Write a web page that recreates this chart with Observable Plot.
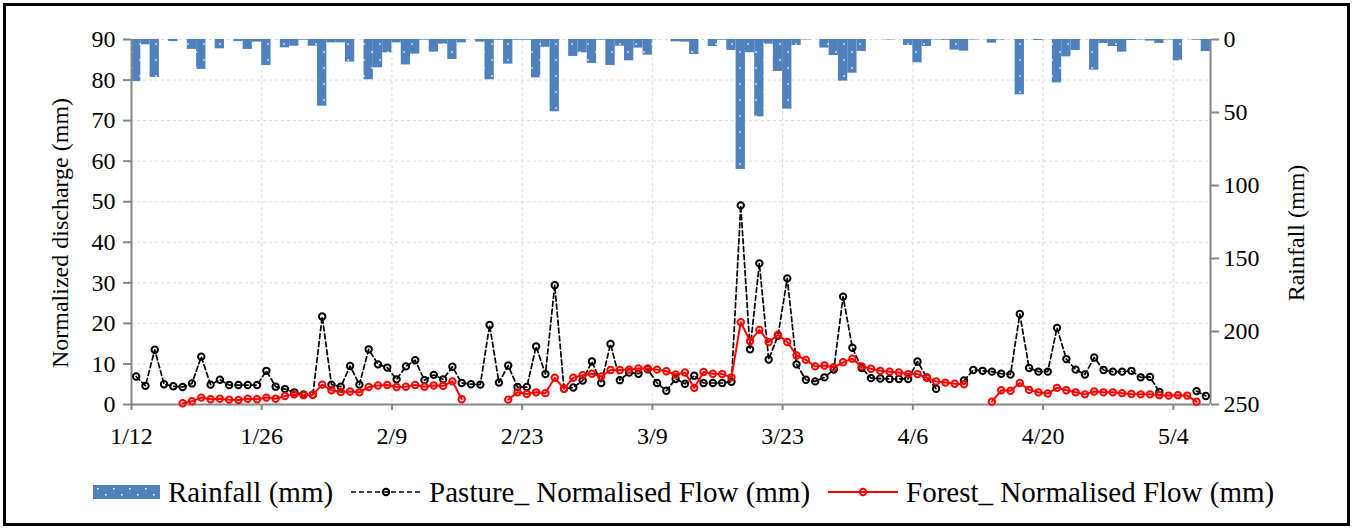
<!DOCTYPE html>
<html><head><meta charset="utf-8">
<script src="https://cdn.jsdelivr.net/npm/d3@7"></script>
<script src="https://cdn.jsdelivr.net/npm/@observablehq/plot@0.6"></script>
<style>
body{margin:0;background:#fff;width:1353px;height:529px;overflow:hidden;font-family:"Liberation Serif","Times New Roman",serif;}
#frame{position:absolute;left:3px;top:3px;width:1347px;height:523px;border:3px solid #000;box-sizing:border-box;pointer-events:none;}
#chart{position:absolute;left:0;top:0;}
#legend{position:absolute;left:93px;top:472px;height:40px;display:flex;align-items:center;justify-content:flex-start;font-size:29px;color:#000;white-space:nowrap;}
#legend .item{display:flex;align-items:center;margin-right:18px;}
#legend svg{margin-right:8px;}
</style></head><body>
<div id="chart"></div><div id="legend"></div><div id="frame"></div>
<script>
// Daily values from 1/12 (day 0) to 5/7 (day 115)
const rainfall = [28.8,3.6,26.0,0,1.4,0,6.8,20.5,0,6.4,0,1.4,6.8,1.8,17.8,0,5.7,4.6,0.5,4.6,
45.7,2.3,2.3,15.5,0,27.6,19.4,9.1,2.3,17.4,10.0,0.5,8.7,3.2,13.7,2.3,0,1.8,27.6,0.5,
16.9,0.5,0.5,26.3,5.3,49.5,0,11.6,9.1,16.4,0.5,17.8,4.6,14.6,5.9,10.7,0,0,1.6,1.8,
10.3,0,4.8,0.5,7.5,89.0,9.1,53.0,3.2,21.9,47.7,4.1,0.3,0,5.9,11.0,28.5,23.1,8.2,0,
0,0.3,0,4.1,16.0,4.8,0.3,0.5,7.3,8.0,0.3,0,2.5,0.3,0,37.9,0,0.7,0,29.7,
11.9,7.5,0,21.0,2.7,4.8,8.7,0.7,0.3,1.1,2.7,0.3,14.6,0,0.5,8.2];
const pasture = [6.9,4.6,13.5,5.0,4.5,4.3,5.2,11.8,4.9,6.1,4.8,4.8,4.8,4.8,8.3,4.4,3.8,3.0,2.5,2.4,
21.7,4.9,4.4,9.5,4.9,13.6,9.9,9.1,6.2,9.4,10.9,6.0,7.3,6.2,9.3,5.3,5.0,4.9,19.6,5.4,
9.6,4.3,4.3,14.3,7.5,29.4,3.9,4.2,5.9,10.6,5.3,14.9,6.0,7.9,7.6,8.7,5.3,3.4,6.3,5.1,
7.1,5.3,5.3,5.3,5.6,49.1,13.6,34.8,11.1,17.0,31.1,9.9,6.1,5.7,6.7,8.6,26.6,14.0,9.0,6.5,
6.4,6.3,6.3,6.3,10.6,6.7,3.9,null,null,5.9,8.5,8.3,8.1,7.6,7.4,22.3,9.0,8.1,8.1,18.9,
11.2,8.6,7.4,11.6,8.5,8.1,8.1,8.3,6.7,6.8,3.1,null,null,null,3.3,2.1];
const forest = [null,null,null,null,null,0.3,0.8,1.7,1.3,1.4,1.2,1.1,1.4,1.3,1.7,1.4,2.1,2.5,2.3,2.4,
4.9,3.5,3.1,3.2,3.0,4.3,4.7,4.8,4.3,4.4,4.8,4.4,4.7,4.6,5.7,1.3,null,null,null,null,
1.2,3.0,2.6,3.0,2.8,6.6,3.9,6.6,7.2,7.6,6.9,8.5,8.5,8.6,8.9,8.9,8.6,8.2,7.4,7.9,
4.1,8.0,7.6,7.5,6.7,20.3,15.6,18.4,15.4,17.2,15.4,12.1,11.0,9.4,9.6,9.2,10.4,11.3,9.4,8.8,
8.3,8.1,7.9,7.5,7.5,6.6,5.7,5.4,5.1,5.0,null,null,0.7,3.5,3.4,5.3,3.6,3.0,2.7,4.1,
3.5,3.0,2.5,3.2,3.0,3.0,2.8,2.6,2.5,2.5,2.3,2.2,2.3,2.2,0.7,null];
const xTickLabels = ["1/12","1/26","2/9","2/23","3/9","3/23","4/6","4/20","5/4"];
const leftTicks = [0,10,20,30,40,50,60,70,80,90];
const rainTicks = [0,50,100,150,200,250];
const year = 2021;

const k = 90 / 250; // rainfall (mm) -> left-axis units, axis reversed from the top
const rows = rainfall.map((r, i) => ({
  start: new Date(Date.UTC(year, 0, 12 + i)),
  end: new Date(Date.UTC(year, 0, 13 + i)),
  mid: new Date(Date.UTC(year, 0, 12 + i, 12)),
  rainTop: 90,
  rainBottom: 90 - r * k,
  pasture: pasture[i] ?? NaN,
  forest: forest[i] ?? NaN
}));
const tickDates = xTickLabels.map(s => { const [m, d] = s.split("/").map(Number); return new Date(Date.UTC(year, m - 1, d)); });
const x0 = new Date(Date.UTC(year, 0, 12)), x1 = new Date(Date.UTC(year, 4, 8));
const fmt = d3.utcFormat("%-m/%-d");
const axisGray = "#868686";

const plot = Plot.plot({
  width: 1353, height: 450,
  marginLeft: 131, marginRight: 143, marginTop: 39, marginBottom: 46,
  style: {fontFamily: "'Liberation Serif','Times New Roman',serif", fontSize: "24px", background: "transparent", overflow: "visible", color: "#000"},
  x: {type: "utc", domain: [x0, x1]},
  y: {domain: [0, 90]},
  marks: [
    Plot.gridY(leftTicks, {stroke: "#d9d9d9", strokeOpacity: 1, strokeDasharray: "3,3", strokeWidth: 1}),
    Plot.gridX(tickDates.slice(1), {stroke: "#d9d9d9", strokeOpacity: 1, strokeDasharray: "3,3", strokeWidth: 1}),
    Plot.rect(rows, {x1: "start", x2: "end", y1: "rainTop", y2: "rainBottom", fill: "url(#rainDots)"}),
    Plot.ruleY([0], {stroke: axisGray, strokeWidth: 2}),
    Plot.ruleX([x0], {stroke: axisGray, strokeWidth: 2}),
    Plot.ruleX([x1], {stroke: axisGray, strokeWidth: 2}),
    Plot.axisY(leftTicks, {anchor: "left", tickSize: 8, tickPadding: 8, label: null, stroke: axisGray, strokeWidth: 2, fill: "#000"}),
    Plot.axisY(rainTicks.map(r => 90 - r * k), {anchor: "right", tickSize: 8, tickPadding: 5, label: null,
      tickFormat: v => String(Math.round((90 - v) / k)), stroke: axisGray, strokeWidth: 2, fill: "#000"}),
    Plot.axisX(tickDates, {anchor: "bottom", tickSize: 6, tickPadding: 16, tickFormat: fmt, label: null, stroke: axisGray, strokeWidth: 2, fill: "#000"}),
    Plot.line(rows, {x: "mid", y: "pasture", stroke: "#000", strokeWidth: 1.7, strokeDasharray: "5,3"}),
    Plot.dot(rows, {x: "mid", y: "pasture", r: 3.2, stroke: "#000", strokeWidth: 2, fill: "none"}),
    Plot.line(rows, {x: "mid", y: "forest", stroke: "#ff0000", strokeWidth: 2}),
    Plot.dot(rows, {x: "mid", y: "forest", r: 3.2, stroke: "#ff0000", strokeWidth: 2, fill: "none"})
  ]
});

const svg = d3.select(plot);
const defs = svg.insert("defs", ":first-child");
const pat = defs.append("pattern").attr("id", "rainDots").attr("patternUnits", "userSpaceOnUse").attr("width", 16).attr("height", 16);
pat.append("rect").attr("width", 16).attr("height", 16).attr("fill", "#4f81bd");
pat.append("rect").attr("x", 3.3).attr("y", 3.3).attr("width", 1.5).attr("height", 1.5).attr("fill", "#fff");
pat.append("rect").attr("x", 11.3).attr("y", 11.3).attr("width", 1.5).attr("height", 1.5).attr("fill", "#fff");

svg.append("text").attr("transform", "translate(62,233) rotate(-90)").attr("text-anchor", "middle")
  .attr("dominant-baseline", "middle").attr("fill", "#000").text("Normalized discharge (mm)");
svg.append("text").attr("transform", "translate(1298,233) rotate(-90)").attr("text-anchor", "middle")
  .attr("dominant-baseline", "middle").attr("fill", "#000").text("Rainfall (mm)");

document.getElementById("chart").appendChild(plot);

// Legend
const legendItems = [
  {label: "Rainfall (mm)", kind: "bar"},
  {label: "Pasture_ Normalised Flow (mm)", kind: "dash"},
  {label: "Forest_ Normalised Flow (mm)", kind: "solid"}
];
const legend = d3.select("#legend");
legendItems.forEach(it => {
  const item = legend.append("div").attr("class", "item");
  const w = it.kind === "bar" ? 67 : 70;
  const s = item.append("svg").attr("width", w).attr("height", 16);
  if (it.kind === "bar") {
    s.append("rect").attr("x", 0).attr("y", 1).attr("width", 67).attr("height", 14).attr("fill", "#4f81bd");
    for (let xx = 4; xx < 67; xx += 8) s.append("rect").attr("x", xx).attr("y", (xx % 16 === 4) ? 4 : 10).attr("width", 1.5).attr("height", 1.5).attr("fill", "#fff");
  } else {
    const c = it.kind === "dash" ? "#000" : "#ff0000";
    s.append("line").attr("x1", 0).attr("x2", w).attr("y1", 8).attr("y2", 8).attr("stroke", c)
      .attr("stroke-width", it.kind === "dash" ? 1.7 : 2).attr("stroke-dasharray", it.kind === "dash" ? "5,3" : null);
    s.append("circle").attr("cx", w / 2).attr("cy", 8).attr("r", 3.2).attr("fill", "none").attr("stroke", c).attr("stroke-width", 2);
  }
  item.append("span").text(it.label);
});
</script>
</body></html>
